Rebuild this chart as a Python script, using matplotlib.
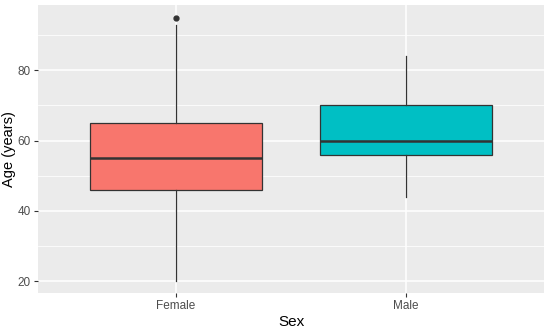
import matplotlib
matplotlib.use("Agg")
import matplotlib.pyplot as plt
from matplotlib.ticker import MultipleLocator

plt.rcParams['font.family'] = ['Liberation Sans', 'DejaVu Sans']

categories = ["Female", "Male"]
whisker_low = [20, 44]
q1 = [46, 56]
median = [55, 60]
q3 = [65, 70]
whisker_high = [93, 84]
outliers = [[95], []]
colors = ["#F8766D", "#00BFC4"]

stats = []
for i, c in enumerate(categories):
    stats.append(dict(label=c, whislo=whisker_low[i], q1=q1[i], med=median[i],
                      q3=q3[i], whishi=whisker_high[i], fliers=outliers[i]))

fig = plt.figure(figsize=(5.5, 3.3), dpi=100)
ax = fig.add_axes([38/550, 37/330, (544-38)/550, (293-5)/330])
ax.set_facecolor("#EBEBEB")

ax.yaxis.set_major_locator(MultipleLocator(20))
ax.yaxis.set_minor_locator(MultipleLocator(10))
ax.grid(which='major', color='white', linewidth=1.1)
ax.grid(which='minor', axis='y', color='white', linewidth=0.55)
ax.set_axisbelow(True)

edge = "#333333"
bp = ax.bxp(stats, positions=[1, 2], widths=0.75, patch_artist=True,
            showcaps=False,
            boxprops=dict(edgecolor=edge, linewidth=0.9),
            whiskerprops=dict(color=edge, linewidth=0.9),
            medianprops=dict(color=edge, linewidth=1.8),
            flierprops=dict(marker='o', markerfacecolor=edge, markeredgecolor=edge,
                            markersize=3.5, linestyle='none'))
for patch, col in zip(bp['boxes'], colors):
    patch.set_facecolor(col)
    patch.set_zorder(3)
for k in ['medians', 'whiskers', 'fliers']:
    for a in bp[k]:
        a.set_zorder(4)

ax.set_xlim(0.4, 2.6)
ax.set_ylim(16.6, 98.6)
ax.set_xticks([1, 2])
ax.set_xticklabels(categories)
for s in ax.spines.values():
    s.set_visible(False)
ax.tick_params(axis='both', which='major', color='#333333', length=3, width=0.8,
               labelsize=8.5, labelcolor='#4D4D4D', pad=2)
ax.tick_params(axis='y', which='minor', length=0)
ax.set_xlabel("Sex", fontsize=11, color='black', labelpad=2)
ax.set_ylabel("Age (years)", fontsize=10.5, color='black', labelpad=1)

fig.savefig("out.png", dpi=100)
